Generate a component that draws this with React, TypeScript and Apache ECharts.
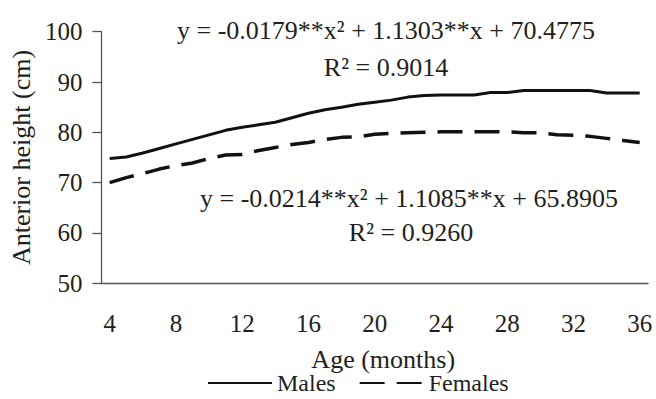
import React, { useEffect, useRef } from "react";
import * as echarts from "echarts";

const ages = ["4","5","6","7","8","9","10","11","12","13","14","15","16","17","18","19","20","21","22","23","24","25","26","27","28","29","30","31","32","33","34","35","36"];
const males = [74.8,75.1,75.9,76.8,77.7,78.6,79.5,80.4,81.0,81.5,82.0,82.9,83.8,84.5,85.0,85.6,86.0,86.4,87.0,87.3,87.4,87.4,87.4,87.9,87.9,88.3,88.3,88.3,88.3,88.3,87.8,87.8,87.8];
const females = [70.0,71.0,71.8,72.7,73.4,73.9,74.8,75.5,75.6,76.4,77.0,77.6,78.0,78.6,79.0,79.1,79.6,79.8,79.9,80.0,80.1,80.1,80.1,80.1,80.1,79.9,79.9,79.5,79.4,79.2,78.8,78.4,78.0];
const seriesNames = ["Males", "Females"];
const eqMale = "y = -0.0179**x² + 1.1303**x + 70.4775";
const r2Male = "R² = 0.9014";
const eqFemale = "y = -0.0214**x² + 1.1085**x + 65.8905";
const r2Female = "R² = 0.9260";

const FONT = "Liberation Serif";
const TXT = "#231f20";
const FS = 25;

export default function App() {
  const ref = useRef<HTMLDivElement>(null);
  useEffect(() => {
    const chart = echarts.init(ref.current!, null, { renderer: "svg" });
    const txt = (text: string, x: number, y: number) => ({
      type: "text",
      x,
      y,
      style: { text, align: "center", verticalAlign: "middle", fontSize: 26, fontFamily: FONT, fill: TXT },
    });
    chart.setOption({
      animation: false,
      backgroundColor: "#ffffff",
      textStyle: { fontFamily: FONT },
      grid: { left: 97, right: 8, top: 31.7, bottom: 115.7, containLabel: false },
      xAxis: {
        type: "category",
        data: ages,
        boundaryGap: true,
        name: "Age (months)",
        nameLocation: "middle",
        nameGap: 63,
        nameTextStyle: { fontSize: 26, fontFamily: FONT, color: TXT, padding: [0, 0, 0, 17] },
        axisLine: { lineStyle: { color: "#555", width: 1.3 } },
        axisTick: { interval: 3, length: 7, lineStyle: { color: "#555", width: 1.3 } },
        axisLabel: { interval: 3, margin: 28, fontSize: FS, fontFamily: FONT, color: TXT },
        splitLine: { show: false },
      },
      yAxis: {
        type: "value",
        min: 50,
        max: 100,
        interval: 10,
        name: "Anterior height (cm)",
        nameLocation: "middle",
        nameRotate: 90,
        nameGap: 62,
        nameTextStyle: { fontSize: 26, fontFamily: FONT, color: TXT },
        axisLine: { show: true, lineStyle: { color: "#555", width: 1.3 } },
        axisTick: { show: true, length: 9, lineStyle: { color: "#555", width: 1.3 } },
        axisLabel: { margin: 19, fontSize: FS, fontFamily: FONT, color: TXT },
        splitLine: { show: false },
      },
      legend: {
        data: seriesNames,
        left: 202,
        top: 366,
        itemWidth: 64,
        itemHeight: 14,
        itemGap: 23,
        itemStyle: { opacity: 0 },
        textStyle: { fontSize: 24, fontFamily: FONT, color: TXT },
      },
      series: [
        {
          name: seriesNames[0],
          type: "line",
          data: males,
          symbol: "none",
          lineStyle: { color: "#111", width: 3, type: "solid" },
          itemStyle: { color: "#111" },
        },
        {
          name: seriesNames[1],
          type: "line",
          data: females,
          symbol: "none",
          lineStyle: { color: "#111", width: 3.5, type: [25, 12] },
          itemStyle: { color: "#111" },
        },
      ],
      graphic: [
        txt(eqMale, 386, 30),
        txt(r2Male, 386, 67),
        txt(eqFemale, 409, 198),
        txt(r2Female, 411, 232),
      ],
    });
    return () => chart.dispose();
  }, []);
  return <div ref={ref} style={{ position: "fixed", left: 0, top: 0, width: 656, height: 399 }} />;
}
